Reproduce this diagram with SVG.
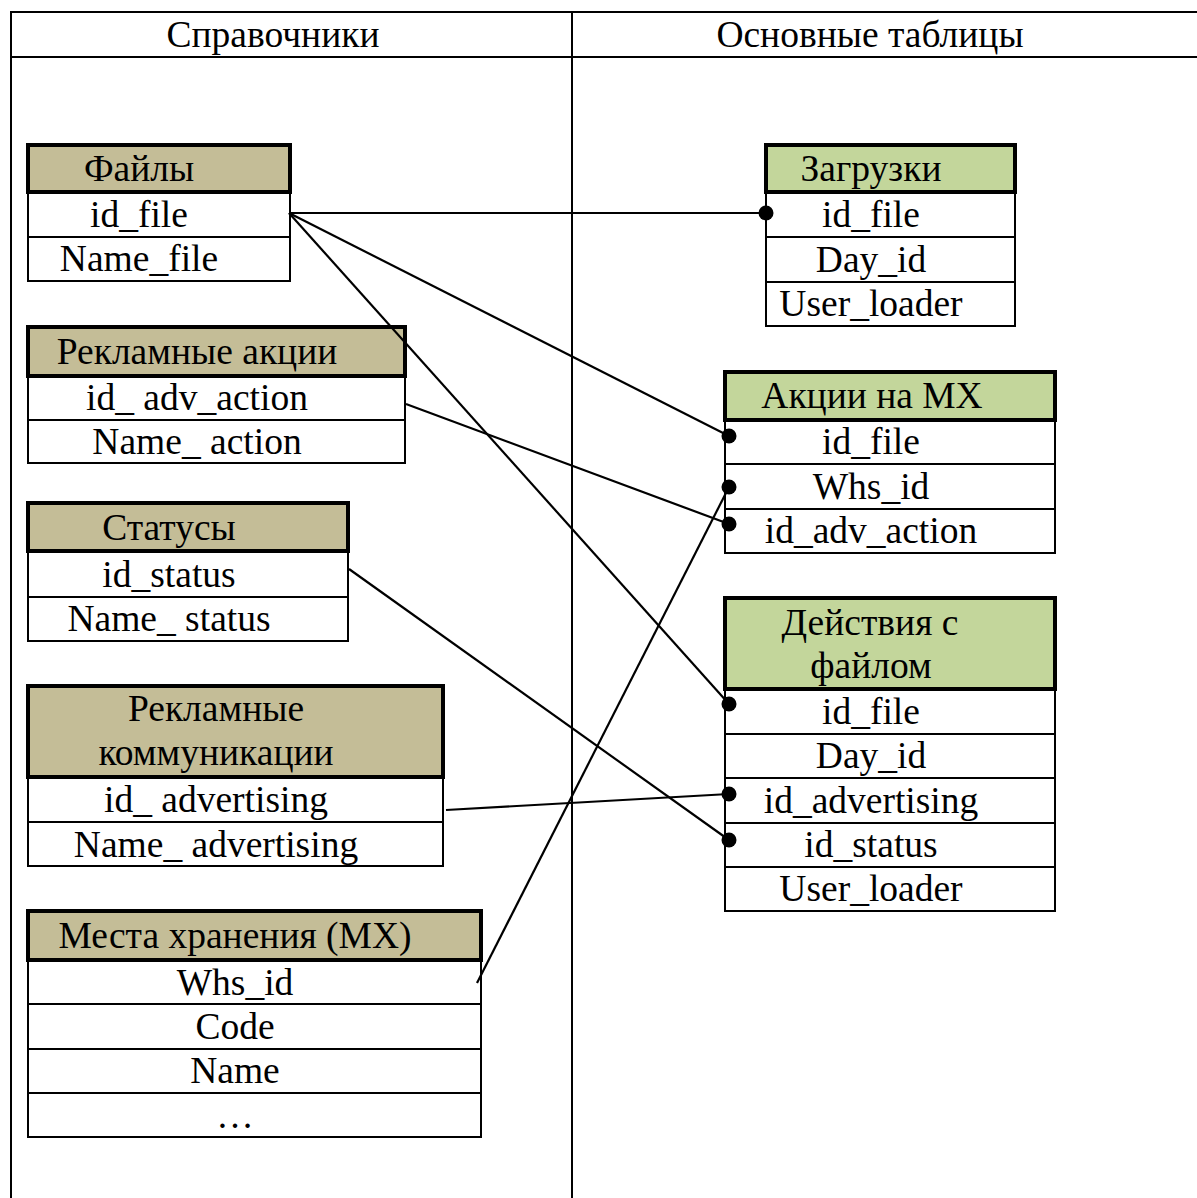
<svg xmlns="http://www.w3.org/2000/svg" width="1197" height="1198" viewBox="0 0 1197 1198">
<style>
text{font-family:"Liberation Serif","Times New Roman",serif;font-size:37.5px;fill:#000;text-anchor:middle}
.hdr-tan{fill:#C4BD97;stroke:#000;stroke-width:4}
.hdr-grn{fill:#C3D69B;stroke:#000;stroke-width:4}
.row{fill:#fff;stroke:#000;stroke-width:2}
.frame{stroke:#000;stroke-width:2;fill:none}
.conn line{stroke:#000;stroke-width:2.2}
.conn circle{fill:#000}
</style>
<rect width="1197" height="1198" fill="#fff"/>
<g id="frame">
<line class="frame" x1="11" y1="12" x2="1197" y2="12"/>
<line class="frame" x1="11" y1="57" x2="1197" y2="57"/>
<line class="frame" x1="11" y1="11" x2="11" y2="1198"/>
<line class="frame" x1="572" y1="11" x2="572" y2="1198"/>
<text x="273" y="47">Справочники</text>
<text x="870" y="47">Основные таблицы</text>
</g>

<g id="files">
<rect class="row" x="28" y="192" width="262" height="45"/>
<rect class="row" x="28" y="237" width="262" height="44"/>
<rect class="hdr-tan" x="28" y="145" width="262" height="47"/>
<text x="139" y="181">Файлы</text>
<text x="139" y="227">id_file</text>
<text x="139" y="271">Name_file</text>
</g>

<g id="adv-actions">
<rect class="row" x="28" y="376" width="377" height="44"/>
<rect class="row" x="28" y="420" width="377" height="43"/>
<rect class="hdr-tan" x="28" y="327" width="377" height="49"/>
<text x="197" y="364">Рекламные акции</text>
<text x="197" y="410">id_ adv_action</text>
<text x="197" y="454">Name_ action</text>
</g>

<g id="statuses">
<rect class="row" x="28" y="551" width="320" height="46"/>
<rect class="row" x="28" y="597" width="320" height="44"/>
<rect class="hdr-tan" x="28" y="503" width="320" height="48"/>
<text x="169" y="540">Статусы</text>
<text x="169" y="587">id_status</text>
<text x="169" y="631">Name_ status</text>
</g>

<g id="adv-comm">
<rect class="row" x="28" y="777" width="415" height="45"/>
<rect class="row" x="28" y="822" width="415" height="44"/>
<rect class="hdr-tan" x="28" y="686" width="415" height="91"/>
<text x="216" y="721">Рекламные</text>
<text x="216" y="765">коммуникации</text>
<text x="216" y="812">id_ advertising</text>
<text x="216" y="857">Name_ advertising</text>
</g>

<g id="warehouses">
<rect class="row" x="28" y="960" width="453" height="44"/>
<rect class="row" x="28" y="1004" width="453" height="45"/>
<rect class="row" x="28" y="1049" width="453" height="44"/>
<rect class="row" x="28" y="1093" width="453" height="44"/>
<rect class="hdr-tan" x="28" y="911" width="453" height="49"/>
<text x="235" y="948">Места хранения (МХ)</text>
<text x="235" y="995">Whs_id</text>
<text x="235" y="1039">Code</text>
<text x="235" y="1083">Name</text>
<text x="235" y="1128">…</text>
</g>

<g id="loads">
<rect class="row" x="766" y="192" width="249" height="45"/>
<rect class="row" x="766" y="237" width="249" height="45"/>
<rect class="row" x="766" y="282" width="249" height="44"/>
<rect class="hdr-grn" x="766" y="145" width="249" height="47"/>
<text x="871" y="181">Загрузки</text>
<text x="871" y="227">id_file</text>
<text x="871" y="272">Day_id</text>
<text x="871" y="316">User_loader</text>
</g>

<g id="wh-actions">
<rect class="row" x="725" y="420" width="330" height="44"/>
<rect class="row" x="725" y="464" width="330" height="45"/>
<rect class="row" x="725" y="509" width="330" height="44"/>
<rect class="hdr-grn" x="725" y="372" width="330" height="48"/>
<text x="872" y="408">Акции на МХ</text>
<text x="871" y="454">id_file</text>
<text x="871" y="499">Whs_id</text>
<text x="871" y="543">id_adv_action</text>
</g>

<g id="file-actions">
<rect class="row" x="725" y="689" width="330" height="45"/>
<rect class="row" x="725" y="734" width="330" height="44"/>
<rect class="row" x="725" y="778" width="330" height="45"/>
<rect class="row" x="725" y="823" width="330" height="44"/>
<rect class="row" x="725" y="867" width="330" height="44"/>
<rect class="hdr-grn" x="725" y="598" width="330" height="91"/>
<text x="870" y="635">Действия с</text>
<text x="871" y="678">файлом</text>
<text x="871" y="724">id_file</text>
<text x="871" y="768">Day_id</text>
<text x="871" y="813">id_advertising</text>
<text x="871" y="857">id_status</text>
<text x="871" y="901">User_loader</text>
</g>

<g id="connectors" class="conn">
<line x1="289" y1="213" x2="766" y2="213"/>
<circle cx="766" cy="213" r="7.5"/>
<line x1="289" y1="213" x2="729" y2="436"/>
<circle cx="729" cy="436" r="7.5"/>
<line x1="289" y1="213" x2="729" y2="704"/>
<circle cx="729" cy="704" r="7.5"/>
<line x1="406" y1="404" x2="729" y2="524"/>
<circle cx="729" cy="524" r="7.5"/>
<line x1="477" y1="983" x2="729" y2="487"/>
<circle cx="729" cy="487" r="7.5"/>
<line x1="349" y1="569" x2="729" y2="840"/>
<circle cx="729" cy="840" r="7.5"/>
<line x1="446" y1="810" x2="729" y2="794"/>
<circle cx="729" cy="794" r="7.5"/>
</g>
</svg>
